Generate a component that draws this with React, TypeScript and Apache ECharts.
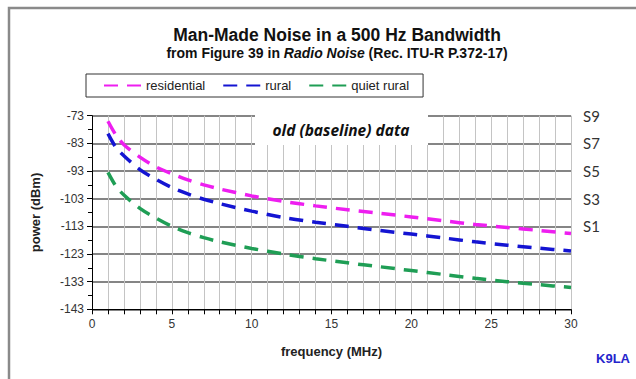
import React, { useEffect, useRef } from "react";
import * as echarts from "echarts";

const freqMHz = [1, 1.5, 2, 3, 4, 5, 6, 7, 8, 10, 12, 14, 16, 18, 20, 22, 24, 26, 28, 30];
const residential = [-75, -80, -83.5, -88, -91.5, -94, -96.2, -98, -99.5, -102, -104, -105.6, -107, -108.3, -109.6, -111, -112.3, -113.4, -114.5, -115.6];
const rural = [-79.5, -84.5, -87.5, -92.5, -96, -99, -101.3, -103.2, -104.8, -107.5, -109.8, -111.5, -113, -114.5, -115.8, -117.2, -118.6, -119.8, -120.9, -121.9];
const quietRural = [-93.5, -98.5, -101.7, -106.5, -110, -113, -115.3, -117.1, -118.6, -121, -123, -124.7, -126.2, -127.6, -129, -130.4, -131.8, -133, -134.1, -135.1];

const Y_MIN = -143;
const Y_MAX = -73;
const sLevels = [-113, -103, -93, -83, -73];
const sLabels = ["S1", "S3", "S5", "S7", "S9"];

const seriesNames = ["residential", "rural", "quiet rural"];
const seriesColors = ["#ee1ef0", "#1414d2", "#1f9e55"];

export default function App() {
  const ref = useRef<HTMLDivElement>(null);
  useEffect(() => {
    if (!ref.current) return;
    const chart = echarts.init(ref.current, undefined, { renderer: "svg" });
    const toPairs = (vals: number[]) => freqMHz.map((f, i) => [f, vals[i] - Y_MIN]);
    const all = [residential, rural, quietRural];
    const font = "'Liberation Sans', Arial, sans-serif";
    chart.setOption({
      animation: false,
      backgroundColor: "#ffffff",
      textStyle: { fontFamily: font },
      grid: { left: 92, right: 65, top: 115.7, bottom: 69.7, containLabel: false },
      legend: {
        left: 86,
        top: 74,
        padding: [5, 14, 5, 17],
        itemGap: 17,
        itemWidth: 37,
        itemHeight: 14,
        borderColor: "#333",
        borderWidth: 1,
        itemStyle: { opacity: 0 },
        textStyle: { fontSize: 13, color: "#222", fontFamily: font },
        data: seriesNames,
      },
      xAxis: {
        type: "value",
        min: 0,
        max: 30,
        interval: 1,
        name: "frequency (MHz)",
        nameLocation: "middle",
        nameGap: 36,
        nameTextStyle: { fontSize: 13, fontWeight: "bold", color: "#222", fontFamily: font },
        axisLine: { show: true, lineStyle: { color: "#000", width: 1 } },
        axisTick: { show: true, length: 5, lineStyle: { color: "#000" } },
        axisLabel: {
          fontSize: 12,
          color: "#333",
          margin: 9,
          formatter: (v: number) => (v % 5 === 0 ? String(v) : ""),
        },
        splitLine: { show: true, lineStyle: { color: "#c4c4c4", width: 1 } },
      },
      yAxis: [
        {
          type: "value",
          min: 0,
          max: Y_MAX - Y_MIN,
          interval: 10,
          name: "power (dBm)",
          nameLocation: "middle",
          nameGap: 50,
          nameTextStyle: { fontSize: 13, fontWeight: "bold", color: "#222", fontFamily: font },
          axisLine: { show: true, lineStyle: { color: "#000", width: 1 } },
          axisTick: { show: true, length: 5, lineStyle: { color: "#000" } },
          minorTick: { show: true, splitNumber: 2, length: 4, lineStyle: { color: "#000" } },
          axisLabel: {
            fontSize: 12,
            color: "#333",
            margin: 8,
            formatter: (v: number) => String(v + Y_MIN),
          },
          splitLine: { show: true, lineStyle: { color: "#5c5c5c", width: 1.5 } },
        },
        {
          type: "value",
          min: 0,
          max: Y_MAX - Y_MIN,
          interval: 10,
          position: "right",
          axisLine: { show: false },
          axisTick: { show: false },
          splitLine: { show: false },
          axisLabel: {
            fontSize: 15,
            color: "#333",
            margin: 12,
            fontFamily: "Lato, 'Open Sans', sans-serif",
            formatter: (v: number) => {
              const idx = sLevels.indexOf(v + Y_MIN);
              return idx >= 0 ? sLabels[idx] : "";
            },
          },
        },
      ],
      series: all.map((vals, i) => ({
        name: seriesNames[i],
        type: "line",
        data: toPairs(vals),
        showSymbol: false,
        symbol: "none",
        smooth: 0.3,
        z: 5,
        itemStyle: { color: seriesColors[i] },
        lineStyle: { color: seriesColors[i], width: 3.5, type: [14, 9] },
      })),
      graphic: [
        {
          type: "rect",
          shape: { x: 9, y: 8, width: 700, height: 500 },
          style: { fill: "none", stroke: "#8a8a8a", lineWidth: 2.5 },
          z: 1,
        },
        {
          type: "rect",
          shape: { x: 255, y: 112, width: 173, height: 33 },
          style: { fill: "#ffffff" },
          z: 10,
        },
        {
          type: "text",
          x: 341,
          y: 130,
          z: 11,
          style: {
            text: "old (baseline) data",
            fontFamily: "'Open Sans', Lato, sans-serif",
            fontSize: 15.5,
            fontWeight: "bold",
            fontStyle: "italic",
            fill: "#111",
            textAlign: "center",
            textVerticalAlign: "middle",
          },
        },
        {
          type: "text",
          x: 337,
          y: 35,
          z: 11,
          style: {
            text: "Man-Made Noise in a 500 Hz Bandwidth",
            fontFamily: font,
            fontSize: 17.5,
            fontWeight: "bold",
            fill: "#111",
            textAlign: "center",
            textVerticalAlign: "middle",
          },
        },
        {
          type: "text",
          x: 337,
          y: 53,
          z: 11,
          style: {
            text: "{n|from Figure 39 in }{i|Radio Noise}{n| (Rec. ITU-R P.372-17)}",
            textAlign: "center",
            textVerticalAlign: "middle",
            rich: {
              n: { fontFamily: font, fontSize: 14, fontWeight: "bold", fill: "#111" },
              i: { fontFamily: font, fontSize: 14, fontWeight: "bold", fontStyle: "italic", fill: "#111" },
            },
          },
        },
        {
          type: "text",
          x: 613,
          y: 358,
          z: 11,
          style: {
            text: "K9LA",
            fontFamily: font,
            fontSize: 13,
            fontWeight: "bold",
            fill: "#2424cc",
            textAlign: "center",
            textVerticalAlign: "middle",
          },
        },
      ],
    });
    return () => chart.dispose();
  }, []);
  return (
    <div
      ref={ref}
      style={{ position: "fixed", left: 0, top: 0, width: 636, height: 379, background: "#fff" }}
    />
  );
}
